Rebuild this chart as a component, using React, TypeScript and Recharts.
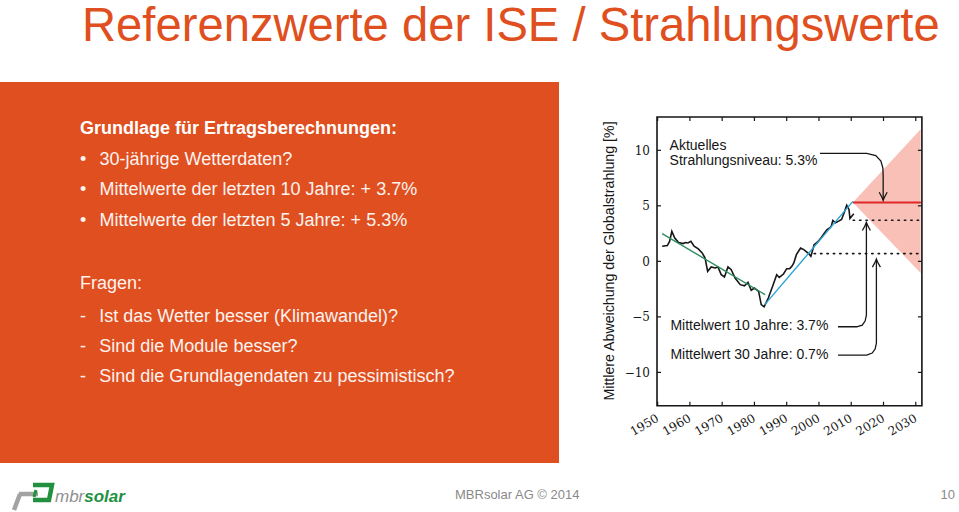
import React from 'react';
import { ComposedChart, Line, Area, XAxis, YAxis, ReferenceArea, ReferenceDot } from 'recharts';

// ---------- data ----------
const X_TICKS = [1950, 1960, 1970, 1980, 1990, 2000, 2010, 2020, 2030];
const Y_TICKS = [-10, -5, 0, 5, 10];
const X_DOMAIN: [number, number] = [1949.8, 2031.9];
const Y_DOMAIN: [number, number] = [-13, 13];

const obsYears = [
  1951.4, 1953.0, 1953.7, 1954.4, 1955.3, 1956.5, 1957.9, 1958.6, 1959.4, 1960.3,
  1961.3, 1962.6, 1963.8, 1964.7, 1965.5, 1966.6, 1967.8, 1968.7, 1969.7, 1970.7,
  1971.8, 1972.8, 1974.0, 1975.6, 1976.9, 1978.0, 1979.0, 1980.0, 1981.3, 1982.1,
  1983.0, 1984.3, 1985.8, 1986.9, 1987.7, 1989.0, 1990.0, 1990.9, 1991.6, 1992.2,
  1993.0, 1994.3, 1995.3, 1996.9, 1997.5, 1998.5, 1999.6, 2000.6, 2001.7, 2002.5,
  2003.3, 2003.8, 2004.3, 2005.1, 2006.1, 2007.0, 2007.8, 2008.6, 2009.3, 2009.6,
  2010.4, 2010.8,
];
const obsValues = [
  1.36, 1.42, 1.8, 2.7, 2.1, 1.7, 1.6, 1.7, 1.66, 1.8,
  1.36, 1.12, 0.76, 0.3, -0.9, -0.5, -0.6, -0.5, -1.2, -1.4,
  -0.5, -0.75, -1.5, -2.1, -2.2, -1.9, -2.6, -2.4, -2.7, -3.9,
  -4.1, -3.3, -2.1, -1.2, -1.45, -1.14, -0.66, -0.66, -0.45, -0.15,
  0.6, 1.2, 1.06, 0.67, 0.45, 1.5, 1.75, 2.1, 2.56, 2.86,
  3.0, 3.16, 3.68, 3.47, 3.62, 3.77, 4.37, 5.06, 4.67, 3.86,
  4.16, 4.28,
];

const fallYears = [1951.4, 1983.3];
const fallValues = [2.5, -3.0];
const riseYears = [1983.2, 2010.5];
const riseValues = [-3.9, 5.4];
const levelYears = [2010.5, 2031.6];
const levelValues = [5.3, 5.3];
const mean10Years = [2010.6, 2031.6];
const mean10Values = [3.7, 3.7];
const mean30Years = [1998.5, 2031.6];
const mean30Values = [0.7, 0.7];
const coneYears = [2010.5, 2031.5];
const coneLow = [5.3, -1.05];
const coneHigh = [5.3, 11.9];

const arrowLevelYears = [2000.3, 2014.8, 2017.6, 2019.2, 2019.8, 2019.9, 2019.9];
const arrowLevelValues = [9.73, 9.73, 9.53, 9.04, 8.4, 7.68, 5.5];
const arrow10Years = [2005.9, 2011.7, 2013.4, 2014.3, 2014.7, 2014.7];
const arrow10Values = [-5.89, -5.89, -5.74, -5.38, -4.84, 3.5];
const arrow30Years = [2005.9, 2014.8, 2016.5, 2017.4, 2017.8, 2017.8];
const arrow30Values = [-8.44, -8.44, -8.26, -7.9, -7.36, 0.2];

const labelLevel = ['Aktuelles', 'Strahlungsniveau: 5.3%'];
const label10 = 'Mittelwert 10 Jahre: 3.7%';
const label30 = 'Mittelwert 30 Jahre: 0.7%';
const yAxisTitle = 'Mittlere Abweichung der Globalstrahlung [%]';

const pairs = (xs: number[], ys: number[]) => xs.map((x, i) => ({ x, y: ys[i] }));
const obsData = pairs(obsYears, obsValues);
const fallData = pairs(fallYears, fallValues);
const riseData = pairs(riseYears, riseValues);
const levelData = pairs(levelYears, levelValues);
const mean10Data = pairs(mean10Years, mean10Values);
const mean30Data = pairs(mean30Years, mean30Values);
const coneData = coneYears.map((x, i) => ({ x, band: [coneLow[i], coneHigh[i]] }));
const arrowLevelData = pairs(arrowLevelYears, arrowLevelValues);
const arrow10Data = pairs(arrow10Years, arrow10Values);
const arrow30Data = pairs(arrow30Years, arrow30Values);

// ---------- layout ----------
const CH_LEFT = 580;
const CH_TOP = 105;
const CH_W = 370;
const CH_H = 345;
const MARGIN = { top: 12, right: 28.1, bottom: 4.3, left: 27 };
const Y_AXIS_W = 50;
const X_AXIS_H = 40;
const PLOT_LEFT = MARGIN.left + Y_AXIS_W;
const PLOT_RIGHT = CH_W - MARGIN.right;
const PLOT_TOP = MARGIN.top;
const PLOT_BOTTOM = CH_H - MARGIN.bottom - X_AXIS_H;

const INK = '#161616';
const SERIF = '"DejaVu Serif", "Liberation Serif", serif';
const SANS = '"Liberation Sans", Arial, sans-serif';
const ORANGE = '#e04f20';

const fmt = (v: number) => (v < 0 ? `\u2212${Math.abs(v)}` : `${v}`);

const XTick = (props: any) => {
  const { x, payload } = props;
  const ax = x + 2;
  const ay = PLOT_BOTTOM + 15;
  return (
    <g>
      <line x1={x} x2={x} y1={PLOT_BOTTOM} y2={PLOT_BOTTOM - 4} stroke={INK} strokeWidth={1.2} />
      <line x1={x} x2={x} y1={PLOT_TOP} y2={PLOT_TOP + 4} stroke={INK} strokeWidth={1.2} />
      <text x={ax} y={ay} transform={`rotate(-30 ${ax} ${ay})`} textAnchor="end" fontFamily={SERIF} fontSize={12} fill={INK}>
        {payload.value}
      </text>
    </g>
  );
};

const YTick = (props: any) => {
  const { y, payload } = props;
  return (
    <g>
      <line x1={PLOT_LEFT} x2={PLOT_LEFT + 4} y1={y} y2={y} stroke={INK} strokeWidth={1.2} />
      <line x1={PLOT_RIGHT} x2={PLOT_RIGHT - 4} y1={y} y2={y} stroke={INK} strokeWidth={1.2} />
      <text x={PLOT_LEFT - 7} y={y + 4.3} textAnchor="end" fontFamily={SERIF} fontSize={12} fill={INK}>
        {fmt(payload.value)}
      </text>
    </g>
  );
};

const headDown = (p: any) => (
  <path d={`M${p.cx - 4} ${p.cy - 8} Q${p.cx - 1} ${p.cy - 3} ${p.cx} ${p.cy} Q${p.cx + 1} ${p.cy - 3} ${p.cx + 4} ${p.cy - 8}`} fill="none" stroke={INK} strokeWidth={1.3} />
);
const headUp = (p: any) => (
  <path d={`M${p.cx - 4} ${p.cy + 8} Q${p.cx - 1} ${p.cy + 3} ${p.cx} ${p.cy} Q${p.cx + 1} ${p.cy + 3} ${p.cx + 4} ${p.cy + 8}`} fill="none" stroke={INK} strokeWidth={1.3} />
);

const textShape = (lines: string[]) => (p: any) => (
  <text x={p.cx} y={p.cy} fontFamily={SANS} fontSize={14} fill={INK}>
    {lines.map((l, i) => (
      <tspan key={i} x={p.cx} dy={i === 0 ? 0 : 15.5}>{l}</tspan>
    ))}
  </text>
);

const last = (a: number[]) => a[a.length - 1];

const Chart = () => (
  <ComposedChart width={CH_W} height={CH_H} margin={MARGIN}>
    <XAxis type="number" dataKey="x" domain={X_DOMAIN} ticks={X_TICKS} allowDataOverflow
      axisLine={false} tickLine={false} tick={<XTick />} height={X_AXIS_H} interval={0} />
    <YAxis type="number" domain={Y_DOMAIN} ticks={Y_TICKS} allowDataOverflow
      axisLine={false} tickLine={false} tick={<YTick />} width={Y_AXIS_W} interval={0} />
    <Area data={coneData} dataKey="band" type="linear" stroke="none" fill="#f8b9b0" fillOpacity={0.9} isAnimationActive={false} dot={false} activeDot={false} />
    <Line data={mean10Data} dataKey="y" type="linear" stroke={INK} strokeWidth={1.6} strokeDasharray="1.4 5" strokeLinecap="round" dot={false} activeDot={false} isAnimationActive={false} />
    <Line data={mean30Data} dataKey="y" type="linear" stroke={INK} strokeWidth={1.6} strokeDasharray="1.4 5" strokeLinecap="round" dot={false} activeDot={false} isAnimationActive={false} />
    <Line data={levelData} dataKey="y" type="linear" stroke="#e02626" strokeWidth={1.8} dot={false} activeDot={false} isAnimationActive={false} />
    <Line data={obsData} dataKey="y" type="linear" stroke={INK} strokeWidth={1.6} dot={false} activeDot={false} isAnimationActive={false} />
    <Line data={fallData} dataKey="y" type="linear" stroke="#2f8c5e" strokeWidth={1.4} dot={false} activeDot={false} isAnimationActive={false} />
    <Line data={riseData} dataKey="y" type="linear" stroke="#2aa3d4" strokeWidth={1.4} dot={false} activeDot={false} isAnimationActive={false} />
    <Line data={arrowLevelData} dataKey="y" type="linear" stroke={INK} strokeWidth={1.3} dot={false} activeDot={false} isAnimationActive={false} />
    <Line data={arrow10Data} dataKey="y" type="linear" stroke={INK} strokeWidth={1.3} dot={false} activeDot={false} isAnimationActive={false} />
    <Line data={arrow30Data} dataKey="y" type="linear" stroke={INK} strokeWidth={1.3} dot={false} activeDot={false} isAnimationActive={false} />
    <ReferenceDot x={last(arrowLevelYears)} y={last(arrowLevelValues)} shape={headDown} />
    <ReferenceDot x={last(arrow10Years)} y={last(arrow10Values)} shape={headUp} />
    <ReferenceDot x={last(arrow30Years)} y={last(arrow30Values)} shape={headUp} />
    <ReferenceDot x={1953.7} y={10.03} shape={textShape(labelLevel)} />
    <ReferenceDot x={1953.95} y={-6.2} shape={textShape([label10])} />
    <ReferenceDot x={1953.95} y={-8.82} shape={textShape([label30])} />
    <ReferenceArea x1={X_DOMAIN[0]} x2={X_DOMAIN[1]} y1={Y_DOMAIN[0]} y2={Y_DOMAIN[1]} fill="none" fillOpacity={0} stroke={INK} strokeWidth={1.6} />
  </ComposedChart>
);

const Slide = () => (
  <svg width={959} height={512} style={{ position: 'absolute', left: 0, top: 0 }}>
    <rect x={0} y={0} width={959} height={512} fill="#ffffff" />
    <text x={82} y={41} fontFamily={SANS} fontSize={47.2} fill={ORANGE}>Referenzwerte der ISE / Strahlungswerte</text>
    <rect x={0} y={82} width={559} height={381} fill={ORANGE} />
    <g fontFamily={SANS} fontSize={18} fill="#fdf3ef">
      <text x={80} y={134} fontWeight="bold" fill="#ffffff">Grundlage für Ertragsberechnungen:</text>
      <text x={80} y={164.5}>•</text>
      <text x={99.5} y={164.5}>30-jährige Wetterdaten?</text>
      <text x={80} y={195}>•</text>
      <text x={99.5} y={195}>Mittelwerte der letzten 10 Jahre: + 3.7%</text>
      <text x={80} y={226}>•</text>
      <text x={99.5} y={226}>Mittelwerte der letzten 5 Jahre: + 5.3%</text>
      <text x={80} y={288.5}>Fragen:</text>
      <text x={80} y={321.5}>-</text>
      <text x={99.3} y={321.5}>Ist das Wetter besser (Klimawandel)?</text>
      <text x={80} y={351.5}>-</text>
      <text x={99.3} y={351.5}>Sind die Module besser?</text>
      <text x={80} y={381.5}>-</text>
      <text x={99.3} y={381.5}>Sind die Grundlagendaten zu pessimistisch?</text>
    </g>
    <g>
      <path d="M19 494 L38 494" stroke="#a3a3a3" strokeWidth={4.5} fill="none" />
      <path d="M20 494 L14 510" stroke="#a3a3a3" strokeWidth={4.5} fill="none" />
      <path d="M33 485 L52 485 L49 500 L33 500" stroke="#22913f" strokeWidth={4.5} fill="none" strokeLinejoin="miter" />
      <path d="M36 490 L34 497" stroke="#22913f" strokeWidth={3} fill="none" />
      <text x={55} y={502} fontFamily={SANS} fontSize={17} fontStyle="italic" fill="#8f8f8f">mbr<tspan fill="#22913f" fontWeight="bold">solar</tspan></text>
    </g>
    <text x={455} y={499} fontFamily={SANS} fontSize={13} fill="#8a8a8a">MBRsolar AG © 2014</text>
    <text x={955} y={499} fontFamily={SANS} fontSize={13} fill="#8a8a8a" textAnchor="end">10</text>
  </svg>
);

export default function App() {
  return (
    <div style={{ position: 'absolute', left: 0, top: 0, width: 959, height: 512, overflow: 'hidden', background: '#fff' }}>
      <Slide />
      <div style={{ position: 'absolute', left: CH_LEFT, top: CH_TOP, width: CH_W, height: CH_H }}>
        <Chart />
      </div>
      <div style={{
        position: 'absolute', left: 609, top: 261, transform: 'translate(-50%, -50%) rotate(-90deg)',
        whiteSpace: 'nowrap', fontFamily: SANS, fontSize: 14.2, color: INK, lineHeight: 1,
      }}>
        {yAxisTitle}
      </div>
    </div>
  );
}
